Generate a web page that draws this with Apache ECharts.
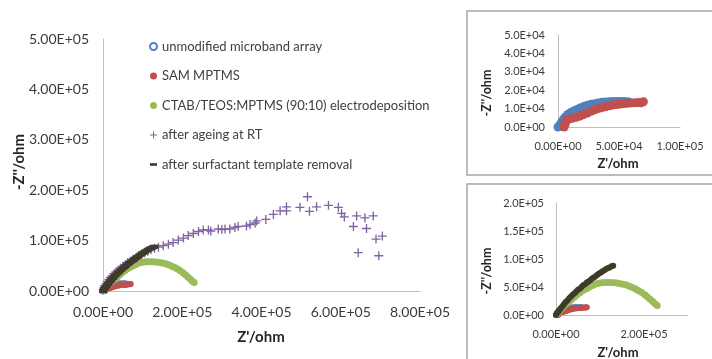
<!DOCTYPE html>
<html>
<head>
<meta charset="utf-8">
<script src="https://cdn.jsdelivr.net/npm/echarts@6/dist/echarts.min.js"></script>
<style>
  html, body { margin: 0; padding: 0; background: #fff; }
  #chart-container { width: 712px; height: 359px; }
</style>
</head>
<body>
<div id="chart-container"></div>
<script>
// series names
const names = [
  "unmodified microband array",
  "SAM MPTMS",
  "CTAB/TEOS:MPTMS (90:10) electrodeposition",
  "after ageing at RT",
  "after surfactant template removal",
];

// Z' (ohm) and -Z'' (ohm)
const blueX = [0, 1000, 2000, 3000, 4500, 6000, 8000, 10000, 12500, 15000, 18000, 21000, 24000, 27000, 30000, 33000, 36000, 39000, 42000, 45000, 48000, 51000, 54000, 57000, 58500];
const blueY = [0, 500, 1500, 2800, 4200, 5500, 6800, 7700, 8600, 9400, 10300, 11100, 11800, 12300, 12700, 13100, 13400, 13600, 13700, 13800, 13800, 13800, 13800, 13700, 13500];

const redX = [5000, 5500, 6000, 6500, 7500, 9500, 12000, 15000, 18000, 21000, 24000, 27000, 30000, 33000, 36000, 39000, 42000, 45000, 48000, 51000, 54000, 57000, 60000, 63000, 66000, 68000, 70000];
const redY = [0, 1000, 2000, 3200, 4000, 4400, 4800, 5300, 6000, 6800, 7600, 8500, 9300, 10000, 10500, 11000, 11500, 11900, 12200, 12500, 12700, 12900, 13100, 13200, 13300, 13200, 13700];

const greenX = [1000, 3000, 6000, 10000, 14000, 19000, 24000, 30000, 36000, 42000, 48000, 55000, 62000, 69000, 76000, 83000, 90000, 97000, 104000, 111000, 118000, 125000, 132000, 139000, 146000, 153000, 160000, 167000, 174000, 181000, 188000, 195000, 202000, 208000, 214000, 220000, 225000, 230000];
const greenY = [1000, 3000, 6000, 9500, 13000, 17000, 20500, 24000, 28000, 32000, 36000, 40000, 44000, 47000, 50000, 52500, 55500, 56500, 57500, 58000, 58000, 58000, 57500, 57000, 56000, 55000, 53500, 51500, 49000, 46500, 43500, 40000, 36000, 32000, 28000, 24000, 20000, 17000];

const purpleX = [1000, 3000, 5000, 8000, 11000, 15000, 19000, 23000, 28000, 33000, 38000, 44000, 50000, 56000, 62000, 69000, 76000, 83000, 90000, 97000, 105000, 113000, 121000, 130000, 140000, 152000, 165000, 177000, 190000, 203000, 215000, 228000, 241000, 253000, 266000, 272000, 291000, 300000, 308000, 320000, 333000, 341000, 362000, 371000, 384000, 388000, 411000, 430000, 447000, 463000, 463000, 497000, 516000, 521000, 539000, 569000, 594000, 602000, 609000, 632000, 640000, 644000, 661000, 665000, 682000, 689000, 696000, 705000];
const purpleY = [3000, 7000, 11000, 15000, 19000, 23000, 27000, 30000, 34000, 38000, 41000, 45000, 49000, 52000, 56000, 59000, 63000, 66000, 70000, 73000, 76000, 79000, 82000, 85000, 87000, 90000, 93000, 96000, 101000, 105000, 110000, 114000, 118000, 121000, 121000, 119000, 123000, 122000, 123000, 123000, 126000, 128000, 129000, 132000, 135000, 139000, 142000, 152000, 159000, 159000, 167000, 166000, 187000, 158000, 167000, 170000, 166000, 154000, 147000, 128000, 149000, 76000, 145000, 124000, 149000, 103000, 70000, 109000];

const brownX = [0, 2000, 4000, 6000, 8000, 10000, 13000, 16000, 19000, 22000, 26000, 30000, 34000, 38000, 42000, 46000, 50000, 54000, 58000, 62000, 66000, 70000, 74000, 78000, 82000, 86000, 90000, 94000, 98000, 102000, 106000, 110000, 114000, 118000, 122000, 126000, 130000];
const brownY = [0, 3000, 5000, 7000, 9000, 11000, 14000, 17000, 20000, 23000, 26000, 30000, 33000, 36000, 39000, 42000, 45000, 47000, 50000, 53000, 55000, 58000, 60000, 62000, 65000, 67000, 69000, 72000, 74000, 76000, 78000, 80000, 82000, 84000, 85000, 87000, 88000];

const colors = ["#4F81BD", "#C0504D", "#9BBB59", "#8064A2", "#3F3A2A"];

const plusIcon = "path://M3.4,0H4.6V3.4H8V4.6H4.6V8H3.4V4.6H0V3.4H3.4Z";
const dashIcon = "path://M0,0H8V3H0Z";

const pairs = (xs, ys) => xs.map((x, i) => [x, ys[i]]);

// Excel style scientific labels, e.g. 2.00E+05
const sci = (d) => (v) => {
  if (v === 0) return "0." + "0".repeat(d) + "E+00";
  const [m, e] = v.toExponential(d).split("e");
  const sign = e[0] === "-" ? "-" : "+";
  const ex = e.replace(/[+-]/, "").padStart(2, "0");
  return m + "E" + sign + ex;
};

const font = "Lato, 'Open Sans', sans-serif";
const axisLineStyle = { show: true, lineStyle: { color: "#BFBFBF", width: 1 } };

const makeAxis = (grid, max, interval, digits, size, margin, extra) =>
  Object.assign({
    type: "value",
    gridIndex: grid,
    min: 0,
    max: max,
    interval: interval,
    axisLine: axisLineStyle,
    axisTick: { show: false },
    splitLine: { show: false },
    axisLabel: {
      formatter: sci(digits),
      fontFamily: font,
      fontSize: size,
      color: "#3A3A3A",
      margin: margin,
    },
  }, extra || {});

const scatter = (name, xs, ys, idx, color, symbol, size, style) => ({
  name: name,
  type: "scatter",
  xAxisIndex: idx,
  yAxisIndex: idx,
  data: pairs(xs, ys),
  symbol: symbol,
  symbolSize: size,
  itemStyle: Object.assign({ color: color, opacity: 1 }, style || {}),
  emphasis: { disabled: true },
  silent: true,
});

const yTitle = (x, y, size) => ({
  type: "text",
  x: x,
  y: y,
  rotation: Math.PI / 2,
  style: {
    text: "-Z''/ohm",
    fontFamily: font,
    fontSize: size,
    fontWeight: "bold",
    fill: "#262626",
    align: "center",
    verticalAlign: "middle",
  },
});

const xTitle = (x, y, size) => ({
  type: "text",
  x: x,
  y: y,
  style: {
    text: "Z'/ohm",
    fontFamily: font,
    fontSize: size,
    fontWeight: "bold",
    fill: "#262626",
    align: "center",
    verticalAlign: "middle",
  },
});

const option = {
  animation: false,
  backgroundColor: "#fff",
  grid: [
    { left: 103, top: 39, width: 317, height: 252 },
    { left: 558, top: 35, width: 122, height: 92 },
    { left: 556, top: 203, width: 132, height: 112 },
  ],
  xAxis: [
    makeAxis(0, 800000, 200000, 2, 14, 14),
    makeAxis(1, 100000, 50000, 2, 11, 14),
    makeAxis(2, 300000, 200000, 2, 11, 14, {}),
  ],
  yAxis: [
    makeAxis(0, 500000, 100000, 2, 14, 14),
    makeAxis(1, 50000, 10000, 1, 11, 13),
    makeAxis(2, 200000, 50000, 1, 11, 12),
  ],
  legend: {
    orient: "vertical",
    left: 144,
    top: 35,
    itemWidth: 7,
    itemHeight: 7,
    itemGap: 16.5,
    selectedMode: false,
    textStyle: { fontFamily: font, fontSize: 13, color: "#404040" },
    data: [
      { name: names[0], icon: "emptyCircle" },
      { name: names[1], icon: "circle" },
      { name: names[2], icon: "circle" },
      { name: names[3], icon: plusIcon },
      { name: names[4], icon: dashIcon },
    ],
  },
  graphic: [
    { type: "rect", shape: { x: 467, y: 11, width: 260, height: 164 }, style: { fill: "none", stroke: "#A6A6A6", lineWidth: 1.5 }, z: -1 },
    { type: "rect", shape: { x: 467, y: 184, width: 260, height: 200 }, style: { fill: "none", stroke: "#A6A6A6", lineWidth: 1.5 }, z: -1 },
    yTitle(19, 162, 15),
    xTitle(261, 337, 15),
    yTitle(487, 93, 12.5),
    xTitle(618, 164, 13),
    yTitle(487, 271, 12.5),
    xTitle(618, 353, 13),
  ],
  series: [
    // main chart
    scatter(names[0], blueX, blueY, 0, colors[0], "emptyCircle", 5, { borderWidth: 1.5, borderColor: colors[0] }),
    scatter(names[1], redX, redY, 0, colors[1], "circle", 6),
    scatter(names[2], greenX, greenY, 0, colors[2], "circle", 7),
    scatter(names[3], purpleX, purpleY, 0, colors[3], plusIcon, 9),
    scatter(names[4], brownX, brownY, 0, colors[4], dashIcon, [8, 4]),
    // inset top
    scatter(names[0], blueX, blueY, 1, colors[0], "circle", 9),
    scatter(names[1], redX, redY, 1, colors[1], "circle", 9),
    // inset bottom
    scatter(names[0], blueX, blueY, 2, colors[0], "circle", 6),
    scatter(names[1], redX, redY, 2, colors[1], "circle", 6),
    scatter(names[2], greenX, greenY, 2, colors[2], "circle", 7),
    scatter(names[4], brownX, brownY, 2, colors[4], "circle", 6),
  ],
};

// the 3.0E+05 end of the lower inset is not labelled
option.xAxis[2].axisLabel.showMaxLabel = false;

const paintChart = () => {
  let dom = document.getElementById("chart-container");
  let myChart = echarts.init(dom, null, { renderer: "canvas" });
  myChart.setOption(option);
};
paintChart();
</script>
</body>
</html>
